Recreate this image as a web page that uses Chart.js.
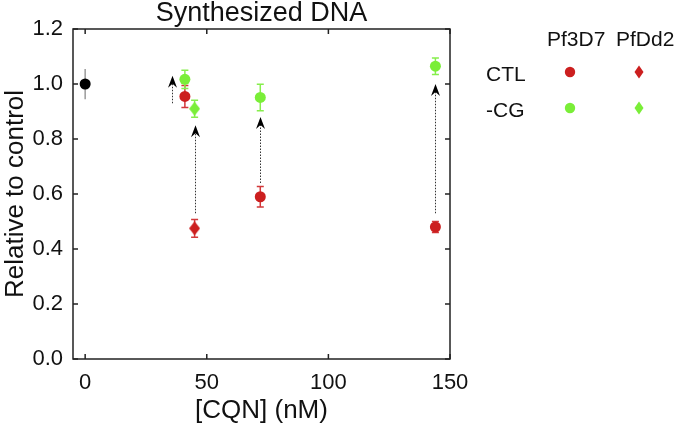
<!DOCTYPE html>
<html>
<head>
<meta charset="utf-8">
<script src="https://cdn.jsdelivr.net/npm/chart.js@4.4.0/dist/chart.umd.min.js"></script>
<style>
  html, body { margin: 0; padding: 0; background: #fff; }
  canvas { display: block; }
</style>
</head>
<body>
<canvas id="dnaChart" width="677" height="426"></canvas>
<script>
const xTicks = [0, 50, 100, 150];
const yTicks = [0, 0.2, 0.4, 0.6, 0.8, 1.0, 1.2];

const controlConc = [0];
const controlVal = [1.0];
const controlErr = [0.055];

const pf3d7Conc = [41, 72, 144];
const pf3d7Ctl = [0.955, 0.59, 0.48];
const pf3d7CtlErr = [0.04, 0.037, 0.02];
const pf3d7Cg = [1.017, 0.951, 1.065];
const pf3d7CgErr = [0.033, 0.048, 0.03];

const pfdd2Conc = [45];
const pfdd2Ctl = [0.475];
const pfdd2CtlErr = [0.032];
const pfdd2Cg = [0.91];
const pfdd2CgErr = [0.031];

// dotted arrows, CTL -> -CG
const arrowConc = [35.5, 45, 72, 144];
const arrowFrom = [0.93, 0.53, 0.64, 0.53];
const arrowTo = [1.03, 0.85, 0.88, 1.0];

const legendCols = ["Pf3D7", "PfDd2"];
const legendRows = ["CTL", "-CG"];

const RED = "#cc1f1f";
const RED_ERR = "#d2383a";
const GREEN = "#7aee38";
const GREEN_ERR = "#86ee4c";
const FONT = "'Liberation Sans', Arial, sans-serif";

const diamond = (color, w, h) => {
  let c = document.createElement("canvas");
  c.width = w;
  c.height = h;
  let g = c.getContext("2d");
  g.fillStyle = color;
  g.beginPath();
  g.moveTo(w / 2, 0);
  g.lineTo(w, h / 2);
  g.lineTo(w / 2, h);
  g.lineTo(0, h / 2);
  g.closePath();
  g.fill();
  return c;
};

const toPoints = (xs, ys) => xs.map((x, i) => ({ x: x, y: ys[i] }));

const errorBars = {
  id: "errorBars",
  beforeDatasetsDraw(chart) {
    const ctx = chart.ctx;
    const y = chart.scales.y;
    chart.data.datasets.forEach((ds, i) => {
      if (!ds.errors) return;
      chart.getDatasetMeta(i).data.forEach((pt, j) => {
        const top = y.getPixelForValue(ds.data[j].y + ds.errors[j]);
        const bot = y.getPixelForValue(ds.data[j].y - ds.errors[j]);
        ctx.save();
        ctx.strokeStyle = ds.errColor;
        ctx.lineWidth = 1.5;
        ctx.beginPath();
        ctx.moveTo(pt.x, top);
        ctx.lineTo(pt.x, bot);
        if (ds.caps) {
          ctx.moveTo(pt.x - 3.5, top);
          ctx.lineTo(pt.x + 3.5, top);
          ctx.moveTo(pt.x - 3.5, bot);
          ctx.lineTo(pt.x + 3.5, bot);
        }
        ctx.stroke();
        ctx.restore();
      });
    });
  },
};

const arrows = {
  id: "arrows",
  beforeDatasetsDraw(chart) {
    const ctx = chart.ctx;
    const sx = chart.scales.x;
    const sy = chart.scales.y;
    arrowConc.forEach((c, i) => {
      const x = Math.round(sx.getPixelForValue(c)) + 0.5;
      const y0 = sy.getPixelForValue(arrowFrom[i]);
      const tip = sy.getPixelForValue(arrowTo[i]);
      ctx.save();
      ctx.strokeStyle = "#333";
      ctx.lineWidth = 1;
      ctx.setLineDash([1.5, 1.5]);
      ctx.beginPath();
      ctx.moveTo(x, y0);
      ctx.lineTo(x, tip + 8);
      ctx.stroke();
      ctx.setLineDash([]);
      ctx.fillStyle = "#000";
      ctx.beginPath();
      ctx.moveTo(x, tip);
      ctx.lineTo(x + 4.5, tip + 12);
      ctx.lineTo(x, tip + 8);
      ctx.lineTo(x - 4.5, tip + 12);
      ctx.closePath();
      ctx.fill();
      ctx.restore();
    });
  },
};

const frame = {
  id: "frame",
  beforeDatasetsDraw(chart) {
    const ctx = chart.ctx;
    const a = chart.chartArea;
    const sx = chart.scales.x;
    const sy = chart.scales.y;
    ctx.save();
    ctx.strokeStyle = "#222";
    ctx.lineWidth = 1.5;
    ctx.strokeRect(a.left, a.top, a.right - a.left, a.bottom - a.top);
    ctx.beginPath();
    xTicks.forEach((v) => {
      const px = sx.getPixelForValue(v);
      ctx.moveTo(px, a.bottom);
      ctx.lineTo(px, a.bottom - 5);
      ctx.moveTo(px, a.top);
      ctx.lineTo(px, a.top + 5);
    });
    yTicks.forEach((v) => {
      const py = sy.getPixelForValue(v);
      ctx.moveTo(a.left, py);
      ctx.lineTo(a.left + 5, py);
      ctx.moveTo(a.right, py);
      ctx.lineTo(a.right - 5, py);
    });
    ctx.stroke();
    ctx.restore();
  },
  afterDraw(chart) {
    const ctx = chart.ctx;
    const a = chart.chartArea;
    ctx.save();
    ctx.fillStyle = "#111";
    ctx.textBaseline = "alphabetic";
    ctx.textAlign = "center";
    ctx.font = "27px " + FONT;
    ctx.fillText("Synthesized DNA", (a.left + a.right) / 2, 21);

    // legend
    ctx.font = "21px " + FONT;
    ctx.textAlign = "left";
    ctx.fillText(legendCols[0], 547, 46);
    ctx.fillText(legendCols[1], 616, 46);
    ctx.fillText(legendRows[0], 486, 81);
    ctx.fillText(legendRows[1], 486, 117);

    const rowY = [72, 108];
    const colors = [RED, GREEN];
    rowY.forEach((yy, i) => {
      ctx.fillStyle = colors[i];
      ctx.beginPath();
      ctx.arc(570, yy, 5.2, 0, Math.PI * 2);
      ctx.fill();
      ctx.beginPath();
      ctx.moveTo(639, yy - 6.5);
      ctx.lineTo(643.5, yy);
      ctx.lineTo(639, yy + 6.5);
      ctx.lineTo(634.5, yy);
      ctx.closePath();
      ctx.fill();
    });
    ctx.restore();
  },
};

let ctx = document.getElementById("dnaChart").getContext("2d");
new Chart(ctx, {
  type: "scatter",
  data: {
    datasets: [
      {
        label: "Control",
        data: toPoints(controlConc, controlVal),
        errors: controlErr,
        errColor: "#9a9a9a",
        caps: false,
        pointStyle: "circle",
        pointRadius: 5.5,
        backgroundColor: "#000",
        borderWidth: 0,
      },
      {
        label: "Pf3D7 CTL",
        data: toPoints(pf3d7Conc, pf3d7Ctl),
        errors: pf3d7CtlErr,
        errColor: RED_ERR,
        caps: true,
        pointStyle: "circle",
        pointRadius: 5.5,
        backgroundColor: RED,
        borderWidth: 0,
      },
      {
        label: "PfDd2 CTL",
        data: toPoints(pfdd2Conc, pfdd2Ctl),
        errors: pfdd2CtlErr,
        errColor: RED_ERR,
        caps: true,
        pointStyle: diamond(RED, 11, 14),
        pointRadius: 6,
        borderWidth: 0,
      },
      {
        label: "PfDd2 -CG",
        data: toPoints(pfdd2Conc, pfdd2Cg),
        errors: pfdd2CgErr,
        errColor: GREEN_ERR,
        caps: true,
        pointStyle: diamond(GREEN, 11, 14),
        pointRadius: 6,
        borderWidth: 0,
      },
      {
        label: "Pf3D7 -CG",
        data: toPoints(pf3d7Conc, pf3d7Cg),
        errors: pf3d7CgErr,
        errColor: GREEN_ERR,
        caps: true,
        pointStyle: "circle",
        pointRadius: 5.5,
        backgroundColor: GREEN,
        borderWidth: 0,
      },
    ],
  },
  options: {
    responsive: false,
    animation: false,
    layout: { padding: { top: 29, right: 227, left: 0, bottom: 0 } },
    plugins: {
      legend: { display: false },
      tooltip: { enabled: false },
    },
    scales: {
      x: {
        type: "linear",
        min: -5,
        max: 150,
        afterBuildTicks: (s) => {
          s.ticks = xTicks.map((v) => ({ value: v }));
        },
        afterFit: (s) => {
          s.height = 67;
        },
        grid: { display: false, drawTicks: false },
        border: { display: false },
        ticks: {
          font: { family: FONT, size: 22 },
          color: "#111",
          padding: 11,
          maxRotation: 0,
        },
        title: {
          display: true,
          text: "[CQN] (nM)",
          font: { family: FONT, size: 26 },
          color: "#111",
          padding: 0,
        },
      },
      y: {
        min: 0,
        max: 1.2,
        afterBuildTicks: (s) => {
          s.ticks = yTicks.map((v) => ({ value: v }));
        },
        afterFit: (s) => {
          s.width = 73;
        },
        grid: { display: false, drawTicks: false },
        border: { display: false },
        ticks: {
          font: { family: FONT, size: 22 },
          color: "#111",
          padding: 10,
          callback: (v) => v.toFixed(1),
        },
        title: {
          display: true,
          text: "Relative to control",
          font: { family: FONT, size: 26 },
          color: "#111",
          padding: 0,
        },
      },
    },
  },
  plugins: [frame, arrows, errorBars],
});
</script>
</body>
</html>
